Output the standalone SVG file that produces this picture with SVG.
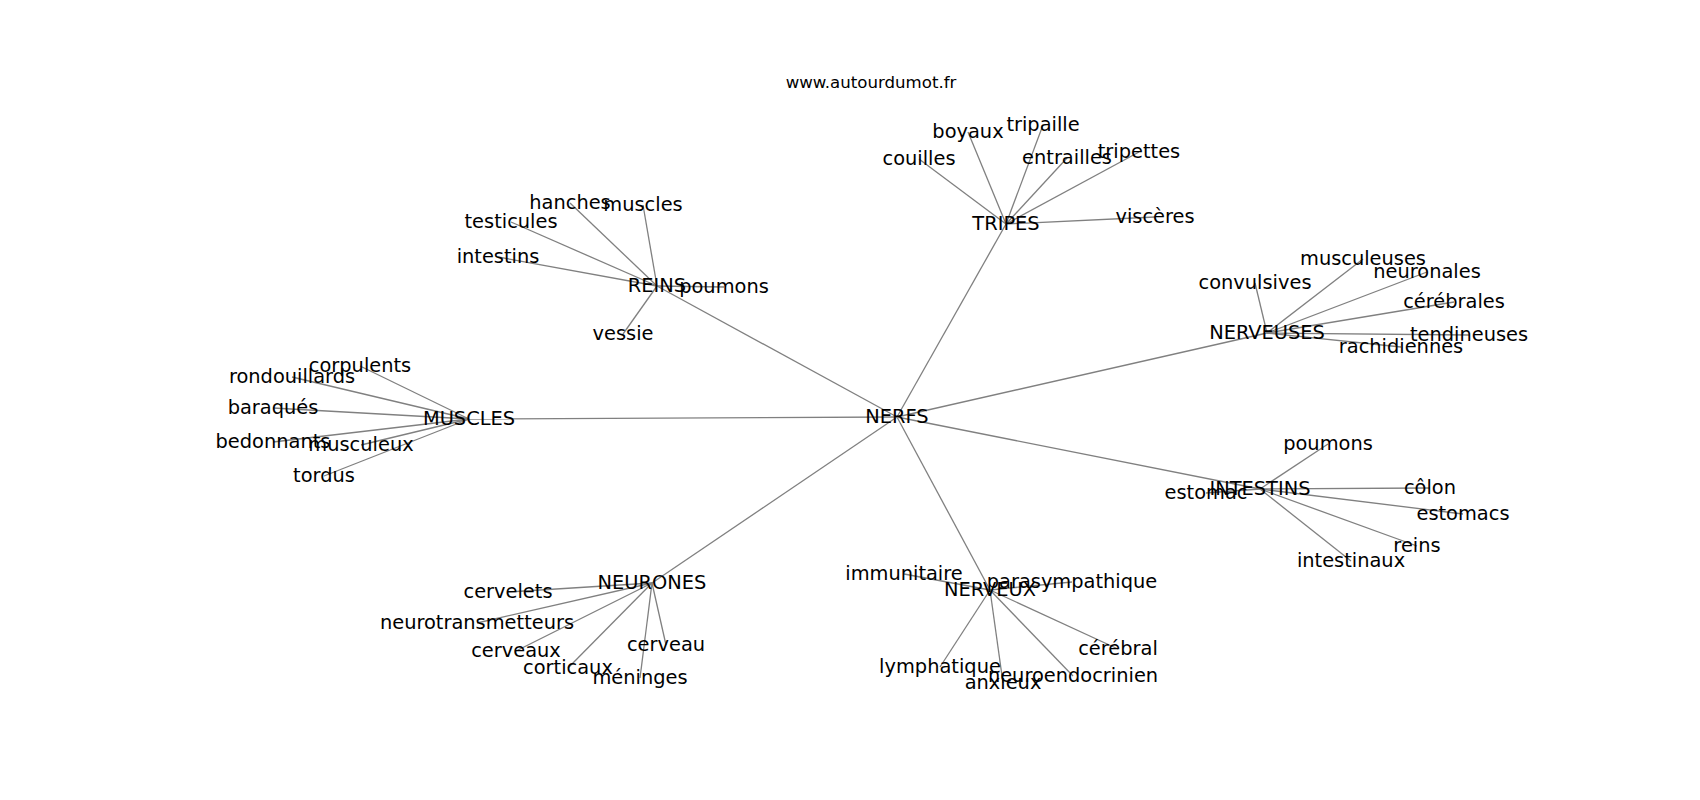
<svg xmlns="http://www.w3.org/2000/svg" width="1700" height="800" viewBox="0 0 1700 800">
<style>
.bg{fill:#ffffff}
.e line{stroke:#808080;stroke-width:1.3;fill:none}
.n text{font-family:"DejaVu Sans",sans-serif;font-size:19.4px;fill:#000;text-anchor:middle}
.title{font-family:"DejaVu Sans",sans-serif;font-size:16.6px;fill:#000;text-anchor:middle}
</style>
<rect class="bg" x="0" y="0" width="1700" height="800"/>
<text class="title" x="871" y="88">www.autourdumot.fr</text>
<g id="connectors" class="e">
<line x1="897" y1="417" x2="1006" y2="224"/>
<line x1="897" y1="417" x2="657" y2="286"/>
<line x1="897" y1="417" x2="469" y2="419"/>
<line x1="897" y1="417" x2="652" y2="583"/>
<line x1="897" y1="417" x2="990" y2="590"/>
<line x1="897" y1="417" x2="1260" y2="489"/>
<line x1="897" y1="417" x2="1267" y2="333"/>
<line x1="1006" y1="224" x2="919" y2="159"/>
<line x1="1006" y1="224" x2="968" y2="132"/>
<line x1="1006" y1="224" x2="1043" y2="125"/>
<line x1="1006" y1="224" x2="1067" y2="158"/>
<line x1="1006" y1="224" x2="1139" y2="152"/>
<line x1="1006" y1="224" x2="1155" y2="217"/>
<line x1="657" y1="286" x2="570" y2="203"/>
<line x1="657" y1="286" x2="643" y2="205"/>
<line x1="657" y1="286" x2="511" y2="222"/>
<line x1="657" y1="286" x2="498" y2="257"/>
<line x1="657" y1="286" x2="724" y2="287"/>
<line x1="657" y1="286" x2="623" y2="334"/>
<line x1="469" y1="419" x2="360" y2="366"/>
<line x1="469" y1="419" x2="292" y2="377"/>
<line x1="469" y1="419" x2="273" y2="408"/>
<line x1="469" y1="419" x2="273" y2="442"/>
<line x1="469" y1="419" x2="361" y2="445"/>
<line x1="469" y1="419" x2="324" y2="476"/>
<line x1="1267" y1="333" x2="1255" y2="283"/>
<line x1="1267" y1="333" x2="1363" y2="259"/>
<line x1="1267" y1="333" x2="1427" y2="272"/>
<line x1="1267" y1="333" x2="1454" y2="302"/>
<line x1="1267" y1="333" x2="1469" y2="335"/>
<line x1="1267" y1="333" x2="1401" y2="347"/>
<line x1="1260" y1="489" x2="1206" y2="493"/>
<line x1="1260" y1="489" x2="1328" y2="444"/>
<line x1="1260" y1="489" x2="1430" y2="488"/>
<line x1="1260" y1="489" x2="1463" y2="514"/>
<line x1="1260" y1="489" x2="1417" y2="546"/>
<line x1="1260" y1="489" x2="1351" y2="561"/>
<line x1="652" y1="583" x2="508" y2="592"/>
<line x1="652" y1="583" x2="477" y2="623"/>
<line x1="652" y1="583" x2="516" y2="651"/>
<line x1="652" y1="583" x2="568" y2="668"/>
<line x1="652" y1="583" x2="640" y2="678"/>
<line x1="652" y1="583" x2="666" y2="645"/>
<line x1="990" y1="590" x2="904" y2="574"/>
<line x1="990" y1="590" x2="1072" y2="582"/>
<line x1="990" y1="590" x2="1118" y2="649"/>
<line x1="990" y1="590" x2="940" y2="667"/>
<line x1="990" y1="590" x2="1073" y2="676"/>
<line x1="990" y1="590" x2="1003" y2="683"/>
</g>
<g class="n">
<g id="NERFS"><text x="897" y="423">NERFS</text></g>
<g id="TRIPES"><text x="1006" y="230">TRIPES</text></g>
<g id="couilles"><text x="919" y="165">couilles</text></g>
<g id="boyaux"><text x="968" y="138">boyaux</text></g>
<g id="tripaille"><text x="1043" y="131">tripaille</text></g>
<g id="entrailles"><text x="1067" y="164">entrailles</text></g>
<g id="tripettes"><text x="1139" y="158">tripettes</text></g>
<g id="visceres"><text x="1155" y="223">viscères</text></g>
<g id="REINS"><text x="657" y="292">REINS</text></g>
<g id="hanches"><text x="570" y="209">hanches</text></g>
<g id="muscles"><text x="643" y="211">muscles</text></g>
<g id="testicules"><text x="511" y="228">testicules</text></g>
<g id="intestins"><text x="498" y="263">intestins</text></g>
<g id="poumons-reins"><text x="724" y="293">poumons</text></g>
<g id="vessie"><text x="623" y="340">vessie</text></g>
<g id="MUSCLES"><text x="469" y="425">MUSCLES</text></g>
<g id="corpulents"><text x="360" y="372">corpulents</text></g>
<g id="rondouillards"><text x="292" y="383">rondouillards</text></g>
<g id="baraques"><text x="273" y="414">baraqués</text></g>
<g id="bedonnants"><text x="273" y="448">bedonnants</text></g>
<g id="musculeux"><text x="361" y="451">musculeux</text></g>
<g id="tordus"><text x="324" y="482">tordus</text></g>
<g id="NERVEUSES"><text x="1267" y="339">NERVEUSES</text></g>
<g id="convulsives"><text x="1255" y="289">convulsives</text></g>
<g id="musculeuses"><text x="1363" y="265">musculeuses</text></g>
<g id="neuronales"><text x="1427" y="278">neuronales</text></g>
<g id="cerebrales"><text x="1454" y="308">cérébrales</text></g>
<g id="tendineuses"><text x="1469" y="341">tendineuses</text></g>
<g id="rachidiennes"><text x="1401" y="353">rachidiennes</text></g>
<g id="INTESTINS"><text x="1260" y="495">INTESTINS</text></g>
<g id="estomac"><text x="1206" y="499">estomac</text></g>
<g id="poumons"><text x="1328" y="450">poumons</text></g>
<g id="colon"><text x="1430" y="494">côlon</text></g>
<g id="estomacs"><text x="1463" y="520">estomacs</text></g>
<g id="reins"><text x="1417" y="552">reins</text></g>
<g id="intestinaux"><text x="1351" y="567">intestinaux</text></g>
<g id="NEURONES"><text x="652" y="589">NEURONES</text></g>
<g id="cervelets"><text x="508" y="598">cervelets</text></g>
<g id="neurotransmetteurs"><text x="477" y="629">neurotransmetteurs</text></g>
<g id="cerveaux"><text x="516" y="657">cerveaux</text></g>
<g id="corticaux"><text x="568" y="674">corticaux</text></g>
<g id="meninges"><text x="640" y="684">méninges</text></g>
<g id="cerveau"><text x="666" y="651">cerveau</text></g>
<g id="NERVEUX"><text x="990" y="596">NERVEUX</text></g>
<g id="immunitaire"><text x="904" y="580">immunitaire</text></g>
<g id="parasympathique"><text x="1072" y="588">parasympathique</text></g>
<g id="cerebral"><text x="1118" y="655">cérébral</text></g>
<g id="lymphatique"><text x="940" y="673">lymphatique</text></g>
<g id="neuroendocrinien"><text x="1073" y="682">neuroendocrinien</text></g>
<g id="anxieux"><text x="1003" y="689">anxieux</text></g>
</g>
</svg>
